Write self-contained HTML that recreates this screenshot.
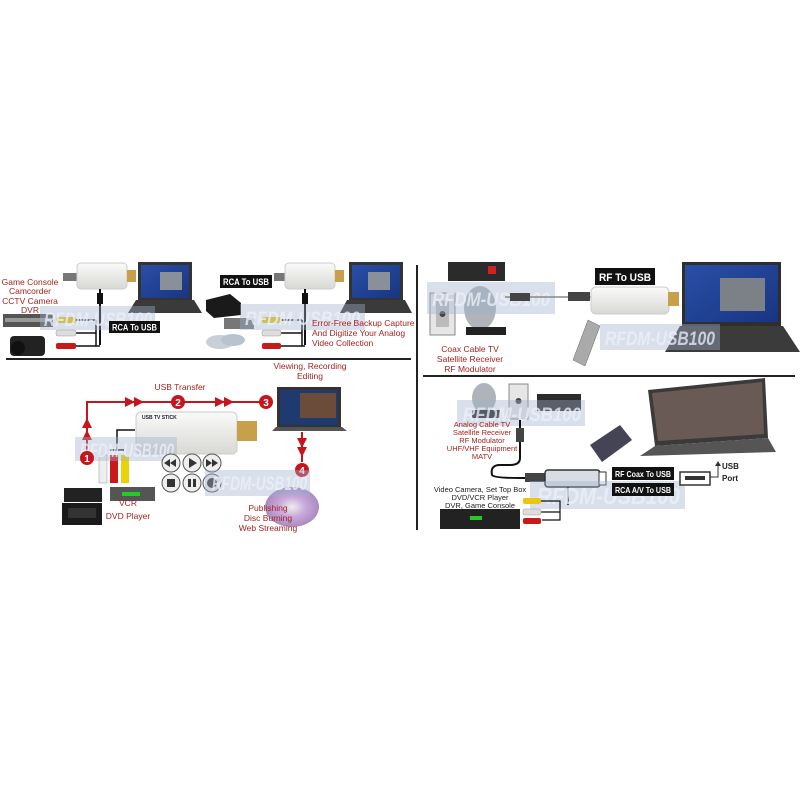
<!DOCTYPE html>
<html><head><meta charset="utf-8"><style>
html,body{margin:0;padding:0;background:#fff;width:800px;height:800px;overflow:hidden}
svg{display:block}
text{font-family:"Liberation Sans",sans-serif}
.r{fill:#a3231f;font-size:8.5px}
.k{fill:#222;font-size:8px}
.lbl{fill:#fff;font-weight:bold;font-size:9px}
.wm{fill:#eef2f8;font-style:italic;font-weight:bold;font-size:19px;opacity:.75}
</style></head><body>
<svg width="800" height="800" viewBox="0 0 800 800" xmlns="http://www.w3.org/2000/svg">
<defs>
<linearGradient id="scr" x1="0" y1="0" x2="1" y2="1"><stop offset="0" stop-color="#2a4fa8"/><stop offset="1" stop-color="#183580"/></linearGradient>
<linearGradient id="stk" x1="0" y1="0" x2="0" y2="1"><stop offset="0" stop-color="#fafafa"/><stop offset="1" stop-color="#d8d8d4"/></linearGradient>
<radialGradient id="disc"><stop offset="0" stop-color="#eee"/><stop offset=".5" stop-color="#c9a8dc"/><stop offset="1" stop-color="#a98bc0"/></radialGradient>
</defs>

<!-- dividers -->
<line x1="6" y1="359" x2="411" y2="359" stroke="#222" stroke-width="2"/>
<line x1="423" y1="376" x2="795" y2="376" stroke="#222" stroke-width="2"/>
<line x1="417" y1="265" x2="417" y2="530" stroke="#222" stroke-width="2"/>

<!-- ===== TOP LEFT ===== -->
<text class="r" x="30" y="285" text-anchor="middle">Game Console</text>
<text class="r" x="30" y="294" text-anchor="middle">Camcorder</text>
<text class="r" x="30" y="304" text-anchor="middle">CCTV Camera</text>
<text class="r" x="30" y="313" text-anchor="middle">DVR</text>
<rect x="63" y="273" width="16" height="8" fill="#777"/>
<rect x="77" y="263" width="50" height="26" rx="4" fill="url(#stk)" stroke="#ccc"/>
<rect x="127" y="270" width="9" height="12" fill="#c9a04a"/>
<line x1="100" y1="289" x2="100" y2="345" stroke="#111" stroke-width="2"/>
<rect x="97" y="293" width="6" height="11" fill="#111"/>
<rect x="138" y="262" width="54" height="38" fill="#333"/>
<rect x="141" y="265" width="48" height="33" fill="url(#scr)"/>
<rect x="160" y="272" width="22" height="18" fill="#8a9099"/>
<path d="M136,300 L194,300 L202,313 L128,313z" fill="#3a3a3a"/>
<rect x="3" y="314" width="50" height="13" fill="#555"/><rect x="5" y="318" width="46" height="4" fill="#999"/>
<rect x="10" y="336" width="35" height="20" rx="4" fill="#222"/><circle cx="18" cy="348" r="7" fill="#111"/>
<line x1="75" y1="320" x2="96" y2="320" stroke="#111" stroke-width="1.5"/><line x1="75" y1="333" x2="96" y2="333" stroke="#111" stroke-width="1.5"/><line x1="75" y1="346" x2="96" y2="346" stroke="#111" stroke-width="1.5"/>
<path d="M96,320 V346 H100" stroke="#111" fill="none" stroke-width="1.5"/>
<rect x="56" y="317" width="20" height="6" rx="2" fill="#e8c80c"/>
<rect x="56" y="330" width="20" height="6" rx="2" fill="#ddd" stroke="#999" stroke-width=".5"/>
<rect x="56" y="343" width="20" height="6" rx="2" fill="#c8191b"/>
<rect x="40" y="306" width="115" height="24" fill="#9fb2cf" opacity=".4"/>
<text class="wm" x="44" y="326" textLength="108" lengthAdjust="spacingAndGlyphs">RFDM-USB100</text>
<rect x="109" y="321" width="51" height="12" fill="#111"/><text class="lbl" x="112" y="330.5" textLength="45" lengthAdjust="spacingAndGlyphs">RCA To USB</text>

<rect x="220" y="275" width="52" height="13" fill="#111"/><text class="lbl" x="223" y="285" textLength="46" lengthAdjust="spacingAndGlyphs">RCA To USB</text>
<rect x="274" y="273" width="12" height="8" fill="#777"/>
<rect x="285" y="263" width="50" height="26" rx="4" fill="url(#stk)" stroke="#ccc"/>
<rect x="335" y="270" width="9" height="12" fill="#c9a04a"/>
<line x1="305" y1="289" x2="305" y2="345" stroke="#111" stroke-width="2"/>
<rect x="302" y="293" width="6" height="11" fill="#111"/>
<rect x="349" y="262" width="54" height="38" fill="#333"/>
<rect x="352" y="265" width="48" height="33" fill="url(#scr)"/>
<rect x="368" y="272" width="22" height="18" fill="#8a9099"/>
<path d="M347,300 L405,300 L412,313 L340,313z" fill="#3a3a3a"/>
<path d="M206,300 L230,294 L241,303 L241,315 L214,318 L206,311z" fill="#1a1a1a"/>
<rect x="224" y="318" width="30" height="11" fill="#777"/>
<ellipse cx="220" cy="342" rx="14" ry="7" fill="#c7cfd8"/><ellipse cx="233" cy="340" rx="12" ry="6" fill="#b7c3cf"/>
<line x1="280" y1="320" x2="302" y2="320" stroke="#111" stroke-width="1.5"/><line x1="280" y1="333" x2="302" y2="333" stroke="#111" stroke-width="1.5"/><line x1="280" y1="346" x2="302" y2="346" stroke="#111" stroke-width="1.5"/>
<path d="M302,320 V346 H305" stroke="#111" fill="none" stroke-width="1.5"/>
<rect x="262" y="317" width="19" height="6" rx="2" fill="#e8c80c"/>
<rect x="262" y="330" width="19" height="6" rx="2" fill="#ddd" stroke="#999" stroke-width=".5"/>
<rect x="262" y="343" width="19" height="6" rx="2" fill="#c8191b"/>
<rect x="240" y="304" width="125" height="26" fill="#9fb2cf" opacity=".4"/>
<text class="wm" x="245" y="325" textLength="115" lengthAdjust="spacingAndGlyphs">RFDM-USB100</text>
<text class="r" x="312" y="326">Error-Free Backup Capture</text>
<text class="r" x="312" y="336">And Digitize Your Analog</text>
<text class="r" x="312" y="346">Video Collection</text>

<!-- ===== TOP RIGHT ===== -->
<rect x="448" y="262" width="57" height="19" fill="#2b2b2b"/><rect x="488" y="266" width="8" height="8" fill="#c22"/>
<rect x="430" y="293" width="25" height="42" fill="#e6e6e6" stroke="#888"/><rect x="436" y="301" width="13" height="26" fill="#bbb"/><circle cx="442.5" cy="314" r="3" fill="#444"/>
<ellipse cx="480" cy="308" rx="16" ry="22" fill="#aeb4ba"/><rect x="466" y="327" width="40" height="8" fill="#222"/>
<rect x="427" y="282" width="128" height="32" fill="#9fb2cf" opacity=".4"/>
<text class="wm" x="432" y="306" textLength="118" lengthAdjust="spacingAndGlyphs">RFDM-USB100</text>
<line x1="505" y1="297" x2="600" y2="297" stroke="#888" stroke-width="1.5"/>
<rect x="510" y="293" width="20" height="8" fill="#444"/><rect x="568" y="292" width="22" height="9" fill="#444"/>
<rect x="595" y="268" width="60" height="17" fill="#111"/><text class="lbl" x="599" y="281" textLength="52" lengthAdjust="spacingAndGlyphs" style="font-size:11px">RF To USB</text>
<rect x="591" y="287" width="78" height="27" rx="5" fill="url(#stk)" stroke="#ccc"/>
<rect x="668" y="292" width="11" height="14" fill="#c9a04a"/>
<rect x="682" y="262" width="99" height="64" fill="#2e2e2e"/>
<rect x="685" y="265" width="93" height="57" fill="url(#scr)"/>
<rect x="720" y="278" width="45" height="33" fill="#7c8087"/>
<path d="M680,326 L783,326 L800,352 L665,352z" fill="#3b3b3b"/>
<rect x="600" y="324" width="120" height="26" fill="#9fb2cf" opacity=".4"/>
<text class="wm" x="605" y="345" textLength="110" lengthAdjust="spacingAndGlyphs">RFDM-USB100</text>
<path d="M588,320 L600,326 L585,366 L573,360z" fill="#aaa" stroke="#666" stroke-width=".5"/>
<text class="r" x="470" y="352" text-anchor="middle">Coax Cable TV</text>
<text class="r" x="470" y="362" text-anchor="middle">Satellite Receiver</text>
<text class="r" x="470" y="372" text-anchor="middle">RF Modulator</text>

<!-- ===== BOTTOM LEFT ===== -->
<text class="r" x="180" y="390" text-anchor="middle">USB Transfer</text>
<text class="r" x="310" y="369" text-anchor="middle">Viewing, Recording</text>
<text class="r" x="310" y="379" text-anchor="middle">Editing</text>
<path d="M87,455 V402 H262" stroke="#c4161c" stroke-width="2" fill="none"/>
<path d="M82,440 L87,430 L92,440z M82,428 L87,418 L92,428z" fill="#c4161c"/>
<path d="M125,397 L135,402 L125,407z M134,397 L144,402 L134,407z M215,397 L225,402 L215,407z M224,397 L234,402 L224,407z" fill="#c4161c"/>
<line x1="302" y1="432" x2="302" y2="462" stroke="#c4161c" stroke-width="2"/>
<path d="M297,438 L302,448 L307,438z M297,447 L302,457 L307,447z" fill="#c4161c"/>
<rect x="136" y="412" width="101" height="42" rx="5" fill="url(#stk)" stroke="#ccc"/>
<rect x="237" y="421" width="20" height="20" fill="#c9a04a"/>
<text x="142" y="419" font-size="5" font-weight="bold" fill="#223" font-family="Liberation Serif,serif">USB TV STICK</text>
<path d="M135,430 H117 V450 M109,450 H124" stroke="#111" stroke-width="1.5" fill="none"/>
<rect x="99" y="455" width="8" height="28" fill="#eee" stroke="#999" stroke-width=".5"/>
<rect x="110" y="455" width="8" height="28" fill="#c8191b"/>
<rect x="121" y="455" width="8" height="28" fill="#e8d20c"/>
<rect x="75" y="437" width="102" height="24" fill="#9fb2cf" opacity=".4"/>
<text class="wm" x="80" y="457" textLength="94" lengthAdjust="spacingAndGlyphs">RFDM-USB100</text>
<g fill="#c4161c"><circle cx="178" cy="402" r="7"/><circle cx="266" cy="402" r="7"/><circle cx="302" cy="470" r="7"/><circle cx="87" cy="458" r="7"/></g>
<g fill="#fff" font-weight="bold" font-size="10" text-anchor="middle" font-family="Liberation Sans,sans-serif"><text x="178" y="406">2</text><text x="266" y="406">3</text><text x="302" y="474">4</text><text x="87" y="462">1</text></g>
<rect x="277" y="387" width="64" height="40" fill="#333"/><rect x="280" y="390" width="58" height="35" fill="#1e3a6e"/><rect x="300" y="393" width="36" height="25" fill="#6b4b3a"/>
<path d="M276,427 L342,427 L347,431 L272,431z" fill="#555"/>
<g fill="#eee" stroke="#555" stroke-width="1"><circle cx="171" cy="463" r="9"/><circle cx="192" cy="463" r="9"/><circle cx="212" cy="463" r="9"/><circle cx="171" cy="483" r="9"/><circle cx="192" cy="483" r="9"/><circle cx="212" cy="483" r="9"/></g>
<g fill="#333"><path d="M164,463 L170,459 V467z M170,463 L176,459 V467z M189,458 L197,463 L189,468z M206,459 L212,463 L206,467z M212,459 L218,463 L212,467z"/><rect x="167" y="479" width="8" height="8"/><rect x="188" y="479" width="3" height="8"/><rect x="193" y="479" width="3" height="8"/><circle cx="212" cy="483" r="5"/></g>
<ellipse cx="292" cy="507" rx="27" ry="20" fill="url(#disc)"/>
<rect x="205" y="470" width="105" height="26" fill="#9fb2cf" opacity=".4"/>
<text class="wm" x="212" y="490" textLength="95" lengthAdjust="spacingAndGlyphs">RFDM-USB100</text>
<rect x="110" y="487" width="45" height="14" fill="#555"/><rect x="122" y="492" width="18" height="4" fill="#2c2"/>
<rect x="64" y="488" width="38" height="14" fill="#222"/><rect x="62" y="503" width="40" height="22" fill="#1a1a1a"/><rect x="68" y="508" width="28" height="10" fill="#333"/>
<text class="r" x="128" y="506" text-anchor="middle">VCR</text>
<text class="r" x="128" y="519" text-anchor="middle">DVD Player</text>
<text class="r" x="268" y="511" text-anchor="middle">Publishing</text>
<text class="r" x="268" y="521" text-anchor="middle">Disc Burning</text>
<text class="r" x="268" y="531" text-anchor="middle">Web Streaming</text>

<!-- ===== BOTTOM RIGHT ===== -->
<ellipse cx="484" cy="398" rx="12" ry="15" fill="#aeb4ba"/><rect x="472" y="410" width="28" height="8" fill="#222"/>
<rect x="509" y="384" width="19" height="35" fill="#e6e6e6" stroke="#888"/><circle cx="518.5" cy="401" r="3" fill="#444"/>
<rect x="537" y="394" width="44" height="17" fill="#2b2b2b"/>
<rect x="457" y="400" width="128" height="26" fill="#9fb2cf" opacity=".4"/>
<text class="wm" x="463" y="421" textLength="118" lengthAdjust="spacingAndGlyphs">RFDM-USB100</text>
<g text-anchor="middle" style="font-size:7.5px;fill:#a3231f"><text x="482" y="427">Analog Cable TV</text><text x="482" y="435">Satellite Receiver</text><text x="482" y="443">RF Modulator</text><text x="482" y="451">UHF/VHF Equipment</text><text x="482" y="459">MATV</text></g>
<path d="M520,420 V458 Q520,465 510,465 H500 Q490,465 492,475 Q494,478 520,478 H540" stroke="#111" stroke-width="2" fill="none"/>
<rect x="516" y="428" width="8" height="14" fill="#444"/>
<path d="M648,390 L765,378 L768,438 L655,446z" fill="#3a3a3a"/><path d="M652,393 L762,382 L764,434 L658,441z" fill="#6a5a55"/>
<path d="M655,446 L768,438 L776,452 L640,456z" fill="#555"/>
<path d="M590,445 L620,425 L632,440 L602,462z" fill="#445"/>
<rect x="525" y="473" width="20" height="9" fill="#444"/>
<rect x="545" y="470" width="55" height="17" rx="3" fill="#d8dde3" stroke="#333" stroke-width="1.5"/>
<rect x="599" y="472" width="7" height="13" fill="#fff" stroke="#333"/>
<line x1="568" y1="487" x2="568" y2="505" stroke="#111" stroke-width="2"/>
<rect x="530" y="481" width="155" height="28" fill="#9fb2cf" opacity=".4"/>
<text class="wm" x="537" y="504" textLength="143" lengthAdjust="spacingAndGlyphs" style="font-size:23px">RFDM-USB100</text>
<rect x="612" y="467" width="62" height="13" fill="#111"/><text class="lbl" x="615" y="477" textLength="56" lengthAdjust="spacingAndGlyphs" style="font-size:8.5px">RF Coax To USB</text>
<rect x="612" y="483" width="62" height="13" fill="#111"/><text class="lbl" x="615" y="493" textLength="56" lengthAdjust="spacingAndGlyphs" style="font-size:8.5px">RCA A/V To USB</text>
<rect x="680" y="472" width="30" height="13" fill="#fff" stroke="#333" stroke-width="1.5"/><rect x="685" y="476" width="20" height="4" fill="#333"/>
<path d="M710,477 H718 V464" stroke="#333" fill="none"/><path d="M715,466 L718,461 L721,466z" fill="#333"/>
<text class="k" x="722" y="469" font-weight="bold">USB</text><text class="k" x="722" y="481" font-weight="bold">Port</text>
<g class="k" text-anchor="middle" style="font-size:7.5px"><text x="480" y="492">Video Camera, Set Top Box</text><text x="480" y="500">DVD/VCR Player</text><text x="480" y="508">DVR, Game Console</text></g>
<rect x="440" y="509" width="80" height="20" fill="#222"/><rect x="470" y="516" width="12" height="4" fill="#2c2"/>
<path d="M540,501 H560 V520 H542 M540,512 H560" stroke="#111" fill="none" stroke-width="1.2"/>
<rect x="523" y="498" width="18" height="6" rx="2" fill="#e8c80c"/>
<rect x="523" y="509" width="18" height="6" rx="2" fill="#ddd" stroke="#999" stroke-width=".5"/>
<rect x="523" y="518" width="18" height="6" rx="2" fill="#c8191b"/>
</svg>
</body></html>
